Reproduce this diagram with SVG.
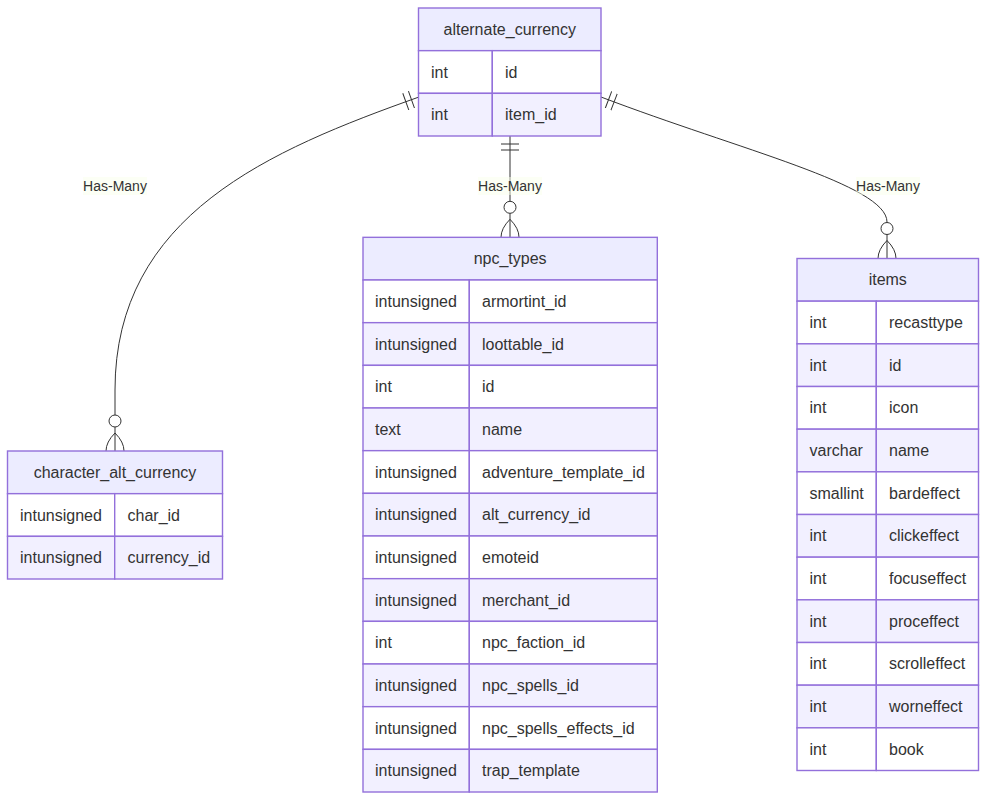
<svg xmlns="http://www.w3.org/2000/svg" width="987" height="801" viewBox="0 0 987 801">
<style>
  .hdr { fill: #ececff; stroke: #9370db; stroke-width: 1.4; }
  .odd { fill: #ffffff; stroke: #9370db; stroke-width: 1.4; }
  .even { fill: #f2f0ff; stroke: #9370db; stroke-width: 1.4; }
  .t { font-family: "Liberation Sans", Arial, sans-serif; font-size: 16px; fill: #333333; dominant-baseline: central; }
  .c { text-anchor: middle; }
  .rel { fill: none; stroke: #333333; stroke-width: 1; }
  .lbl { font-family: "Liberation Sans", Arial, sans-serif; font-size: 14px; fill: #333333; text-anchor: middle; dominant-baseline: central; }
  .lblbox { fill: #f9ffec; opacity: 0.5; }
</style>
<defs>
  <marker id="oneStart" markerUnits="userSpaceOnUse" refX="0" refY="9" markerWidth="18" markerHeight="18" orient="auto">
    <path d="M8,0 L8,18 M14,0 L14,18" fill="none" stroke="#333333" stroke-width="1"/>
  </marker>
  <marker id="manyEnd" markerUnits="userSpaceOnUse" refX="39" refY="18" markerWidth="57" markerHeight="36" orient="auto">
    <circle cx="9" cy="18" r="6" fill="#ffffff" stroke="#333333" stroke-width="1"/>
    <path d="M21,18 Q39,0 57,18 Q39,36 21,18" fill="none" stroke="#333333" stroke-width="1"/>
  </marker>
</defs>
<rect width="987" height="801" fill="#ffffff"/>

<g id="connectors">
  <path class="rel" d="M419,97 C270,150 115,215 115,390 L115,451" marker-start="url(#oneStart)" marker-end="url(#manyEnd)"/>
  <path class="rel" d="M510,136 L510,237.3" marker-start="url(#oneStart)" marker-end="url(#manyEnd)"/>
  <path class="rel" d="M601,97 C740,150 887,185 887,222 L887,258.5" marker-start="url(#oneStart)" marker-end="url(#manyEnd)"/>
  <rect class="lblbox" x="83" y="177" width="64" height="18"/>
  <text class="lbl" x="115" y="186">Has-Many</text>
  <rect class="lblbox" x="478" y="177" width="64" height="18"/>
  <text class="lbl" x="510" y="186">Has-Many</text>
  <rect class="lblbox" x="856" y="177" width="64" height="18"/>
  <text class="lbl" x="888" y="186">Has-Many</text>
</g>

<g id="alternate_currency">
  <rect class="hdr" x="418.5" y="8" width="182.5" height="42.67"/>
  <text class="t c" x="509.75" y="29.33">alternate_currency</text>
  <rect class="odd" x="418.5" y="50.67" width="73.8" height="42.67"/>
  <rect class="odd" x="492.3" y="50.67" width="108.7" height="42.67"/>
  <text class="t" x="431" y="72">int</text>
  <text class="t" x="505" y="72">id</text>
  <rect class="even" x="418.5" y="93.33" width="73.8" height="42.67"/>
  <rect class="even" x="492.3" y="93.33" width="108.7" height="42.67"/>
  <text class="t" x="431" y="114.67">int</text>
  <text class="t" x="505" y="114.67">item_id</text>
</g>

<g id="character_alt_currency">
  <rect class="hdr" x="7.5" y="451" width="215" height="42.67"/>
  <text class="t c" x="115" y="472.33">character_alt_currency</text>
  <rect class="odd" x="7.5" y="493.67" width="107.2" height="42.67"/>
  <rect class="odd" x="114.7" y="493.67" width="107.8" height="42.67"/>
  <text class="t" x="20" y="515">intunsigned</text>
  <text class="t" x="127.5" y="515">char_id</text>
  <rect class="even" x="7.5" y="536.33" width="107.2" height="42.67"/>
  <rect class="even" x="114.7" y="536.33" width="107.8" height="42.67"/>
  <text class="t" x="20" y="557.67">intunsigned</text>
  <text class="t" x="127.5" y="557.67">currency_id</text>
</g>

<g id="npc_types">
  <rect class="hdr" x="363" y="237.33" width="294.3" height="42.67"/>
  <text class="t c" x="510.15" y="258.67">npc_types</text>
  <rect class="odd" x="363" y="280" width="106.3" height="42.67"/><rect class="odd" x="469.3" y="280" width="188" height="42.67"/>
  <text class="t" x="375" y="301.33">intunsigned</text><text class="t" x="482" y="301.33">armortint_id</text>
  <rect class="even" x="363" y="322.67" width="106.3" height="42.67"/><rect class="even" x="469.3" y="322.67" width="188" height="42.67"/>
  <text class="t" x="375" y="344">intunsigned</text><text class="t" x="482" y="344">loottable_id</text>
  <rect class="odd" x="363" y="365.33" width="106.3" height="42.67"/><rect class="odd" x="469.3" y="365.33" width="188" height="42.67"/>
  <text class="t" x="375" y="386.67">int</text><text class="t" x="482" y="386.67">id</text>
  <rect class="even" x="363" y="408" width="106.3" height="42.67"/><rect class="even" x="469.3" y="408" width="188" height="42.67"/>
  <text class="t" x="375" y="429.33">text</text><text class="t" x="482" y="429.33">name</text>
  <rect class="odd" x="363" y="450.67" width="106.3" height="42.67"/><rect class="odd" x="469.3" y="450.67" width="188" height="42.67"/>
  <text class="t" x="375" y="472">intunsigned</text><text class="t" x="482" y="472">adventure_template_id</text>
  <rect class="even" x="363" y="493.33" width="106.3" height="42.67"/><rect class="even" x="469.3" y="493.33" width="188" height="42.67"/>
  <text class="t" x="375" y="514.67">intunsigned</text><text class="t" x="482" y="514.67">alt_currency_id</text>
  <rect class="odd" x="363" y="536" width="106.3" height="42.67"/><rect class="odd" x="469.3" y="536" width="188" height="42.67"/>
  <text class="t" x="375" y="557.33">intunsigned</text><text class="t" x="482" y="557.33">emoteid</text>
  <rect class="even" x="363" y="578.67" width="106.3" height="42.67"/><rect class="even" x="469.3" y="578.67" width="188" height="42.67"/>
  <text class="t" x="375" y="600">intunsigned</text><text class="t" x="482" y="600">merchant_id</text>
  <rect class="odd" x="363" y="621.33" width="106.3" height="42.67"/><rect class="odd" x="469.3" y="621.33" width="188" height="42.67"/>
  <text class="t" x="375" y="642.67">int</text><text class="t" x="482" y="642.67">npc_faction_id</text>
  <rect class="even" x="363" y="664" width="106.3" height="42.67"/><rect class="even" x="469.3" y="664" width="188" height="42.67"/>
  <text class="t" x="375" y="685.33">intunsigned</text><text class="t" x="482" y="685.33">npc_spells_id</text>
  <rect class="odd" x="363" y="706.67" width="106.3" height="42.67"/><rect class="odd" x="469.3" y="706.67" width="188" height="42.67"/>
  <text class="t" x="375" y="728">intunsigned</text><text class="t" x="482" y="728">npc_spells_effects_id</text>
  <rect class="even" x="363" y="749.33" width="106.3" height="42.67"/><rect class="even" x="469.3" y="749.33" width="188" height="42.67"/>
  <text class="t" x="375" y="770.67">intunsigned</text><text class="t" x="482" y="770.67">trap_template</text>
</g>

<g id="items">
  <rect class="hdr" x="797" y="258.5" width="181.5" height="42.67"/>
  <text class="t c" x="887.75" y="279.83">items</text>
  <rect class="odd" x="797" y="301.17" width="79.3" height="42.67"/><rect class="odd" x="876.3" y="301.17" width="102.2" height="42.67"/>
  <text class="t" x="809.5" y="322.5">int</text><text class="t" x="889" y="322.5">recasttype</text>
  <rect class="even" x="797" y="343.83" width="79.3" height="42.67"/><rect class="even" x="876.3" y="343.83" width="102.2" height="42.67"/>
  <text class="t" x="809.5" y="365.17">int</text><text class="t" x="889" y="365.17">id</text>
  <rect class="odd" x="797" y="386.5" width="79.3" height="42.67"/><rect class="odd" x="876.3" y="386.5" width="102.2" height="42.67"/>
  <text class="t" x="809.5" y="407.83">int</text><text class="t" x="889" y="407.83">icon</text>
  <rect class="even" x="797" y="429.17" width="79.3" height="42.67"/><rect class="even" x="876.3" y="429.17" width="102.2" height="42.67"/>
  <text class="t" x="809.5" y="450.5">varchar</text><text class="t" x="889" y="450.5">name</text>
  <rect class="odd" x="797" y="471.83" width="79.3" height="42.67"/><rect class="odd" x="876.3" y="471.83" width="102.2" height="42.67"/>
  <text class="t" x="809.5" y="493.17">smallint</text><text class="t" x="889" y="493.17">bardeffect</text>
  <rect class="even" x="797" y="514.5" width="79.3" height="42.67"/><rect class="even" x="876.3" y="514.5" width="102.2" height="42.67"/>
  <text class="t" x="809.5" y="535.83">int</text><text class="t" x="889" y="535.83">clickeffect</text>
  <rect class="odd" x="797" y="557.17" width="79.3" height="42.67"/><rect class="odd" x="876.3" y="557.17" width="102.2" height="42.67"/>
  <text class="t" x="809.5" y="578.5">int</text><text class="t" x="889" y="578.5">focuseffect</text>
  <rect class="even" x="797" y="599.83" width="79.3" height="42.67"/><rect class="even" x="876.3" y="599.83" width="102.2" height="42.67"/>
  <text class="t" x="809.5" y="621.17">int</text><text class="t" x="889" y="621.17">proceffect</text>
  <rect class="odd" x="797" y="642.5" width="79.3" height="42.67"/><rect class="odd" x="876.3" y="642.5" width="102.2" height="42.67"/>
  <text class="t" x="809.5" y="663.83">int</text><text class="t" x="889" y="663.83">scrolleffect</text>
  <rect class="even" x="797" y="685.17" width="79.3" height="42.67"/><rect class="even" x="876.3" y="685.17" width="102.2" height="42.67"/>
  <text class="t" x="809.5" y="706.5">int</text><text class="t" x="889" y="706.5">worneffect</text>
  <rect class="odd" x="797" y="727.83" width="79.3" height="42.67"/><rect class="odd" x="876.3" y="727.83" width="102.2" height="42.67"/>
  <text class="t" x="809.5" y="749.17">int</text><text class="t" x="889" y="749.17">book</text>
</g>
</svg>
